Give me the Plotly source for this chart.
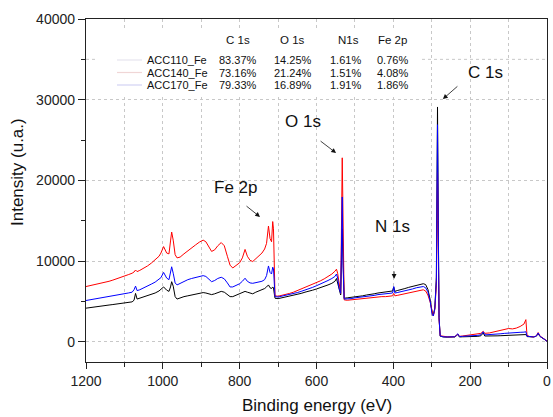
import plotly.graph_objects as go

# ---------------- data ----------------
binding_energy = [
    1200, 1190, 1180, 1170, 1160, 1150, 1140, 1130, 1120, 1110, 1100, 1090, 1080, 1075, 1071, 1067,
    1060, 1050, 1040, 1030, 1020, 1010, 1005, 998, 990, 984, 980, 977, 973, 968, 963, 955, 945, 935,
    925, 915, 905, 895, 888, 880, 873, 865, 857, 848, 840, 832, 825, 818, 810, 800, 793, 786, 780,
    773, 766, 758, 750, 742, 735, 730, 725, 721, 717, 714, 712, 710, 708, 700, 690, 680, 670, 660,
    650, 640, 630, 620, 610, 600, 590, 580, 570, 560, 552, 548, 545, 541, 537, 533, 531, 528, 520,
    510, 500, 490, 480, 470, 460, 450, 440, 430, 420, 410, 402, 399, 396, 390, 380, 370, 360, 350,
    340, 330, 322, 316, 310, 304, 299, 296, 292, 288, 286, 285, 283, 281, 278, 270, 260, 250, 240,
    232, 228, 220, 210, 200, 190, 180, 172, 166, 162, 150, 140, 130, 120, 110, 100, 90, 80, 70, 60,
    55, 52, 45, 35, 28, 23, 18, 10, 5, 0,
]

acc110_fe = [  # black
    4170, 4250, 4300, 4380, 4420, 4500, 4560, 4620, 4680, 4730, 4790, 4850, 4950, 5150, 6000, 5300,
    5400, 5550, 5700, 5850, 6050, 6300, 6500, 6800, 6400, 6250, 6800, 7450, 6900, 5600, 5300, 5450, 5600, 5700,
    5800, 5900, 6000, 6100, 6050, 5900, 5850, 5950, 6100, 6250, 6150, 5850, 5600, 5600, 5750, 5950, 6100, 6250, 6150,
    6000, 5950, 6150, 6300, 6400, 6600, 6800, 7050, 6700, 6600, 6800, 6700, 6000, 5400, 5350, 5450, 5550, 5650, 5750,
    5900, 6000, 6150, 6250, 6400, 6550, 6700, 6850, 7050, 7250, 7500, 7850, 7300, 6300, 5800, 14000, 9000, 5400, 5450,
    5500, 5600, 5650, 5700, 5800, 5850, 5950, 6050, 6100, 6150, 6200, 6300, 6800, 6250, 6350, 6450, 6600, 6750, 6850,
    7000, 7100, 7200, 7100, 6500, 5200, 3600, 3300, 4200, 8000, 20000, 29100, 15000, 3000, 700, 600, 580, 580, 600,
    900, 600, 620, 620, 640, 660, 680, 750, 1100, 720, 700, 720, 740, 760, 780, 800, 800, 800, 820, 850,
    900, 650, 600, 600, 700, 1000, 650, 450, 250, 50,
]

acc140_fe = [  # red
    6850, 6950, 7050, 7150, 7250, 7380, 7500, 7650, 7800, 7950, 8150, 8320, 8500, 8650, 8900, 8700,
    8850, 9100, 9400, 9750, 10150, 10600, 11000, 11800, 11000, 10900, 12500, 13600, 12600, 10800, 10400, 10500, 10900, 11300,
    11700, 12000, 12350, 12600, 12400, 11700, 11200, 11400, 11900, 12300, 11900, 10600, 9500, 9150, 9450, 9800, 10400, 11450, 10600,
    10100, 9950, 10300, 10700, 11000, 11500, 12200, 14350, 12800, 12400, 14900, 14000, 8500, 5700, 5650, 5750, 5900, 6000, 6150,
    6350, 6500, 6700, 6900, 7100, 7300, 7550, 7800, 8100, 8400, 8750, 9000, 8500, 6900, 6000, 22800, 12000, 5200, 5150,
    5200, 5300, 5300, 5350, 5400, 5450, 5500, 5550, 5600, 5600, 5650, 5700, 6000, 5700, 5750, 5850, 5950, 6050, 6150,
    6300, 6400, 6450, 6300, 5800, 4900, 3500, 3200, 4000, 7000, 15000, 21000, 12000, 2800, 750, 650, 620, 620, 650,
    950, 680, 720, 780, 820, 880, 950, 1050, 1300, 1050, 1100, 1200, 1300, 1400, 1550, 1650, 1600, 1700, 1900, 2200,
    2750, 800, 650, 620, 700, 1150, 700, 480, 280, 80,
]

acc170_fe = [  # blue
    5120, 5200, 5260, 5330, 5400, 5480, 5560, 5650, 5750, 5840, 5950, 6050, 6150, 6450, 6900, 6350,
    6450, 6650, 6900, 7150, 7400, 7700, 7950, 8600, 7900, 7700, 8600, 9300, 8500, 7300, 7050, 7250, 7500, 7700,
    7850, 7950, 8100, 8200, 8100, 7750, 7450, 7600, 7850, 8000, 7800, 7300, 6800, 6800, 6950, 7200, 7500, 7880, 7500,
    7300, 7250, 7350, 7450, 7500, 7700, 8200, 9400, 8600, 8400, 9250, 9100, 7000, 5600, 5550, 5650, 5750, 5850, 5950,
    6100, 6250, 6400, 6550, 6750, 6950, 7150, 7350, 7600, 7850, 8100, 8400, 7900, 6600, 6000, 17950, 9500, 5300, 5300,
    5350, 5450, 5500, 5550, 5650, 5700, 5750, 5850, 5900, 5950, 6000, 6050, 6850, 6050, 6100, 6200, 6300, 6400, 6550,
    6700, 6800, 6850, 6700, 6200, 5000, 3400, 3200, 4100, 7500, 18000, 26900, 14000, 2900, 720, 620, 600, 600, 630,
    1000, 650, 680, 700, 720, 760, 800, 880, 1250, 860, 880, 920, 950, 1000, 1050, 1100, 1120, 1150, 1180, 1200,
    1250, 700, 620, 600, 700, 1100, 680, 460, 260, 60,
]

series_names = ["ACC110_Fe", "ACC140_Fe", "ACC170_Fe"]
series_colors = ["#000000", "#ff0000", "#0000ff"]
legend_line_colors = ["#e6e4ee", "#f0d6d6", "#d2d2f4"]

table_headers = ["C 1s", "O 1s", "N1s", "Fe 2p"]
table_values = [
    ["83.37%", "14.25%", "1.61%", "0.76%"],
    ["73.16%", "21.24%", "1.51%", "4.08%"],
    ["79.33%", "16.89%", "1.91%", "1.86%"],
]

peak_labels = ["C 1s", "O 1s", "N 1s", "Fe 2p"]
peak_label_x = [161, 635, 402, 811]
peak_label_y = [33430, 27360, 14240, 19065]
arrow_head_x = [271, 549, 398, 747]
arrow_head_y = [30080, 23400, 7800, 15475]
arrow_tail_dx = [16, -17, 0, -15]
arrow_tail_dy = [-14, -13, -9, -12]

# ---------------- figure ----------------
W, H = 553, 417
ML, MR, MT, MB = 86, 6, 19, 55
PW, PH = W - ML - MR, H - MT - MB


def px(x):
    return (x - ML) / PW


def py(y):
    return (H - MB - y) / PH


FONT = "Liberation Sans, Arial, sans-serif"

fig = go.Figure()
for name, vals, col in zip(series_names, [acc110_fe, acc140_fe, acc170_fe], series_colors):
    fig.add_trace(go.Scatter(x=binding_energy, y=vals, mode="lines", name=name,
                             line=dict(color=col, width=1), showlegend=False))

grid_col = "#c8c8c8"
fig.update_xaxes(
    range=[1200, 0], dtick=200, tick0=0, showline=True, linecolor="#222", linewidth=1.3,
    mirror=True, ticks="outside", ticklen=6, tickwidth=1.2, tickcolor="#222",
    showgrid=True, gridcolor=grid_col, griddash="dot", gridwidth=1,
    minor=dict(dtick=100, ticks="outside", ticklen=4, tickcolor="#222", showgrid=True,
               gridcolor=grid_col, griddash="dot", gridwidth=1),
    tickfont=dict(family=FONT, size=14, color="#222"), zeroline=False, automargin=False,
)
fig.update_yaxes(
    range=[-2500, 40000], dtick=10000, tick0=0, tickformat="d", showline=True, linecolor="#222",
    linewidth=1.3, mirror=True, ticks="outside", ticklen=7, tickwidth=1.2, tickcolor="#222",
    showgrid=True, gridcolor=grid_col, griddash="dot", gridwidth=1,
    minor=dict(dtick=5000, ticks="outside", ticklen=4, tickcolor="#222", showgrid=False),
    tickfont=dict(family=FONT, size=14, color="#222"), zeroline=False, automargin=False,
)

shapes = []
# extra dotted grid line at 35000
shapes.append(dict(type="line", xref="paper", yref="y", x0=0, x1=1, y0=35000, y1=35000,
                   line=dict(color=grid_col, width=1, dash="dot"), layer="below"))
# white legend box
shapes.append(dict(type="rect", xref="paper", yref="paper", x0=px(95), x1=px(420),
                   y0=py(94), y1=py(30), fillcolor="white", line=dict(width=0), layer="above"))

row_y = [60, 72.5, 85]
col_x = [238, 292.5, 345, 392]
annotations = []
for i, name in enumerate(series_names):
    shapes.append(dict(type="line", xref="paper", yref="paper", x0=px(117), x1=px(142),
                       y0=py(row_y[i]), y1=py(row_y[i]),
                       line=dict(color=legend_line_colors[i], width=1.2), layer="above"))
    annotations.append(dict(x=px(145), y=py(row_y[i]), xref="paper", yref="paper", text=name,
                            showarrow=False, xanchor="left", yanchor="middle",
                            font=dict(family=FONT, size=11, color="#111")))
    for j, v in enumerate(table_values[i]):
        annotations.append(dict(x=px(col_x[j]), y=py(row_y[i]), xref="paper", yref="paper", text=v,
                                showarrow=False, xanchor="center", yanchor="middle",
                                font=dict(family=FONT, size=11, color="#111")))
header_x = [238, 292.5, 348, 392]
for j, h in enumerate(table_headers):
    annotations.append(dict(x=px(header_x[j]), y=py(40), xref="paper", yref="paper", text=h,
                            showarrow=False, xanchor="center", yanchor="middle",
                            font=dict(family=FONT, size=11.5, color="#111")))

for k, lab in enumerate(peak_labels):
    annotations.append(dict(x=peak_label_x[k], y=peak_label_y[k], xref="x", yref="y", text=lab,
                            showarrow=False, xanchor="center", yanchor="middle",
                            font=dict(family=FONT, size=17, color="#111")))
    annotations.append(dict(x=arrow_head_x[k], y=arrow_head_y[k], xref="x", yref="y", text="",
                            showarrow=True, ax=arrow_tail_dx[k], ay=arrow_tail_dy[k],
                            arrowhead=2, arrowsize=1.2, arrowwidth=0.8, arrowcolor="#111"))

# axis titles
annotations.append(dict(x=px(317), y=py(405), xref="paper", yref="paper", text="Binding energy (eV)",
                        showarrow=False, xanchor="center", yanchor="middle",
                        font=dict(family=FONT, size=17, color="#111")))
annotations.append(dict(x=px(18), y=py(172), xref="paper", yref="paper", text="Intensity (u.a.)",
                        showarrow=False, xanchor="center", yanchor="middle", textangle=-90,
                        font=dict(family=FONT, size=17, color="#111")))

fig.update_layout(
    width=W, height=H, margin=dict(l=ML, r=MR, t=MT, b=MB, autoexpand=False),
    paper_bgcolor="white", plot_bgcolor="white",
    shapes=shapes, annotations=annotations, showlegend=False,
)

fig.write_html("out.html", config={"displayModeBar": False},
               post_script="document.body.style.margin='0px';document.body.style.overflow='hidden';")
